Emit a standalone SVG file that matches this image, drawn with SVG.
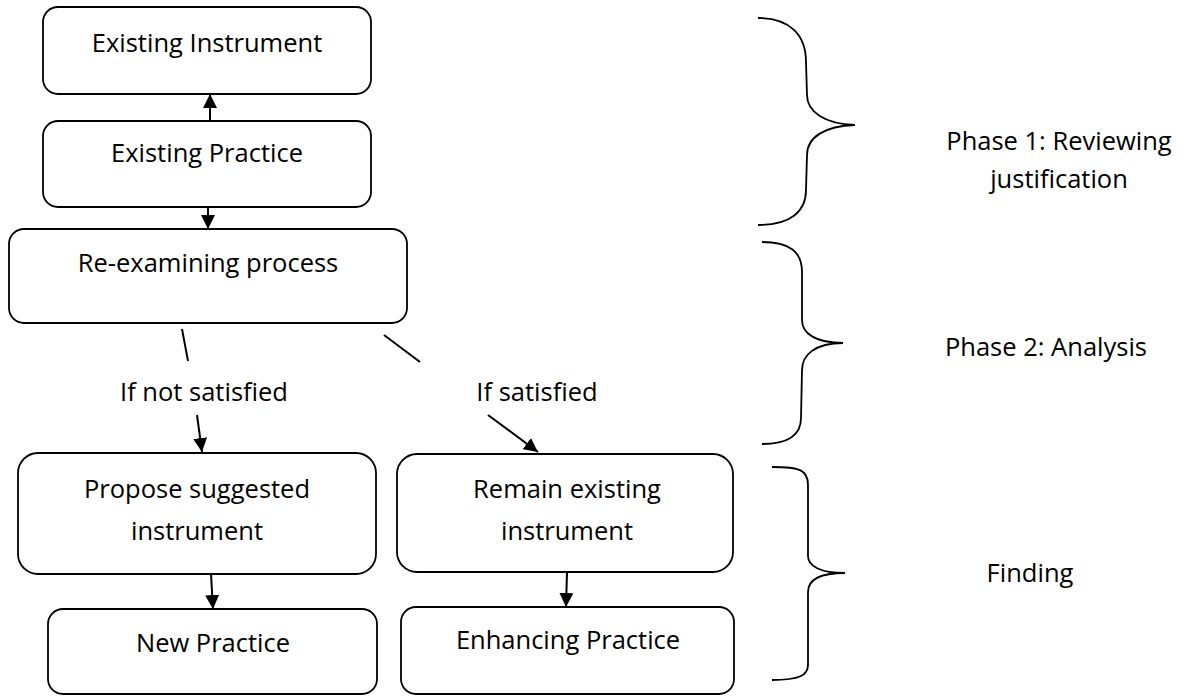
<svg xmlns="http://www.w3.org/2000/svg" width="1184" height="696" viewBox="0 0 1184 696">
<style>
  .box { fill: #ffffff; stroke: #000000; stroke-width: 1.8; }
  .lbl { font-family: "Open Sans", "Liberation Sans", sans-serif; font-size: 25.5px; fill: #000000; text-anchor: middle; }
  .edge { stroke: #000000; stroke-width: 2; fill: none; }
  .brace { stroke: #000000; stroke-width: 1.8; fill: none; }
</style>
<defs>
  <marker id="arrow" viewBox="0 0 14 14" markerWidth="14" markerHeight="14" refX="14" refY="7" orient="auto" markerUnits="userSpaceOnUse">
    <path d="M0,0 L14,7 L0,14 z" fill="#000000"/>
  </marker>
</defs>
<rect width="1184" height="696" fill="#ffffff"/>

<g id="existing-instrument">
  <rect class="box" x="43" y="7" width="328" height="87" rx="15"/>
  <text class="lbl" x="207" y="52">Existing Instrument</text>
</g>
<g id="existing-practice">
  <rect class="box" x="43" y="121" width="328" height="86" rx="15"/>
  <text class="lbl" x="207" y="162">Existing Practice</text>
</g>
<g id="re-examining">
  <rect class="box" x="9" y="229" width="398" height="94" rx="15"/>
  <text class="lbl" x="208" y="272">Re-examining process</text>
</g>
<g id="propose">
  <rect class="box" x="18" y="453" width="358" height="121" rx="20"/>
  <text class="lbl" x="197" y="498">Propose suggested</text>
  <text class="lbl" x="197" y="540">instrument</text>
</g>
<g id="remain">
  <rect class="box" x="397" y="454" width="336" height="118" rx="20"/>
  <text class="lbl" x="567" y="498">Remain existing</text>
  <text class="lbl" x="567" y="540">instrument</text>
</g>
<g id="new-practice">
  <rect class="box" x="48" y="609" width="329" height="85" rx="15"/>
  <text class="lbl" x="213" y="652">New Practice</text>
</g>
<g id="enhancing-practice">
  <rect class="box" x="401" y="607" width="333" height="87" rx="15"/>
  <text class="lbl" x="568" y="649">Enhancing Practice</text>
</g>

<g id="connectors">
  <line class="edge" x1="210" y1="121" x2="210" y2="94" marker-end="url(#arrow)"/>
  <line class="edge" x1="208" y1="207" x2="208" y2="229" marker-end="url(#arrow)"/>
  <line class="edge" x1="182" y1="329" x2="188" y2="361"/>
  <line class="edge" x1="197" y1="415" x2="202" y2="452" marker-end="url(#arrow)"/>
  <line class="edge" x1="384" y1="335" x2="420" y2="362"/>
  <line class="edge" x1="488" y1="415" x2="538" y2="452" marker-end="url(#arrow)"/>
  <line class="edge" x1="211" y1="574" x2="213" y2="609" marker-end="url(#arrow)"/>
  <line class="edge" x1="567" y1="572" x2="566" y2="607" marker-end="url(#arrow)"/>
  <text class="lbl" x="204" y="401">If not satisfied</text>
  <text class="lbl" x="537" y="401">If satisfied</text>
</g>

<g id="phase1">
  <path class="brace" d="M758,18 C790,18 806,35 806,62 L807,95 C807,112 825,124 855,125 C825,126 807,137 807,155 L806,190 C806,212 790,225 758,225"/>
  <text class="lbl" x="1059" y="150">Phase 1: Reviewing</text>
  <text class="lbl" x="1059" y="188">justification</text>
</g>
<g id="phase2">
  <path class="brace" d="M762,242 C790,242 802,252 802,272 L802,320 C802,333 815,343 843,343 C815,343 802,355 802,370 L801,418 C801,434 790,444 762,444"/>
  <text class="lbl" x="1046" y="356">Phase 2: Analysis</text>
</g>
<g id="finding">
  <path class="brace" d="M772,467 C800,467 808,470 808,485 L808,556 C808,566 820,573 845,573 C820,573 808,580 808,592 L808,665 C808,675 800,680 772,680"/>
  <text class="lbl" x="1030" y="582">Finding</text>
</g>
</svg>
